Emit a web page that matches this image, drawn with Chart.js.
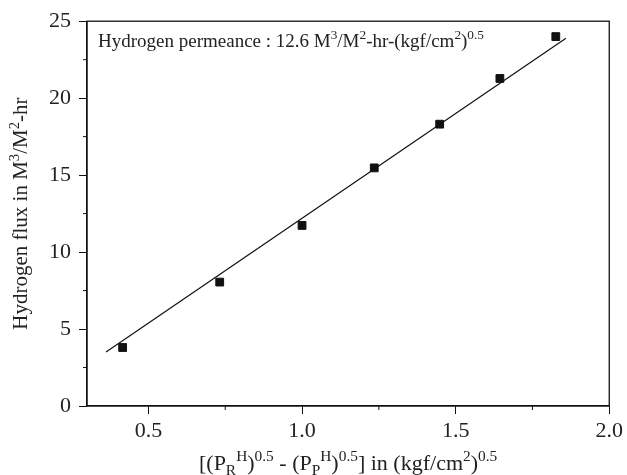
<!DOCTYPE html>
<html>
<head>
<meta charset="utf-8">
<script src="https://cdn.jsdelivr.net/npm/chart.js@4.4.0/dist/chart.umd.min.js"></script>
<style>
  html, body { margin: 0; padding: 0; background: #fff; }
  canvas { display: block; }
</style>
</head>
<body>
<canvas id="grafico" width="627" height="475"></canvas>
<script>
// dados
const fluxX = [0.416, 0.732, 1.0, 1.235, 1.448, 1.644, 1.826];
const fluxY = [3.8, 8.05, 11.73, 15.47, 18.31, 21.28, 24.0];
const fitX = [0.362, 1.859];
const fitY = [3.51, 23.9];

const majorXTicks = [0.5, 1.0, 1.5, 2.0];
const minorXTicks = [0.75, 1.25, 1.75];
const majorYTicks = [0, 5, 10, 15, 20, 25];
const minorYTicks = [2.5, 7.5, 12.5, 17.5, 22.5];

const yTitle = [['Hydrogen flux in M', ''], ['3', '^'], ['/M', ''], ['2', '^'], ['-hr', '']];
const xTitle = [['[(P', ''], ['R', '_'], ['H', '^'], [')', ''], ['0.5', '^'], [' - (P', ''], ['P', '_'], ['H', '^'], [')', ''], ['0.5', '^'], ['] in (kgf/cm', ''], ['2', '^'], [')', ''], ['0.5', '^']];
const noteText = [['Hydrogen permeance : 12.6 M', ''], ['3', '^'], ['/M', ''], ['2', '^'], ['-hr-(kgf/cm', ''], ['2', '^'], [')', ''], ['0.5', '^']];

const FONT = '"Liberation Serif", "Times New Roman", serif';
const TEXT = '#222';

// texto com sobrescrito/subscrito
function drawRich(ctx, parts, x, y, size, align) {
  const small = size * 0.7;
  let total = 0;
  parts.forEach(p => {
    ctx.font = (p[1] ? small : size) + 'px ' + FONT;
    total += ctx.measureText(p[0]).width;
  });
  let cx = align === 'center' ? x - total / 2 : x;
  ctx.textAlign = 'left';
  ctx.textBaseline = 'alphabetic';
  ctx.fillStyle = TEXT;
  parts.forEach(p => {
    let dy = 0;
    if (p[1] === '^') dy = -size * 0.4;
    if (p[1] === '_') dy = size * 0.22;
    ctx.font = (p[1] ? small : size) + 'px ' + FONT;
    ctx.fillText(p[0], cx, y + dy);
    cx += ctx.measureText(p[0]).width;
  });
}

const extras = {
  id: 'extras',
  afterDraw(chart) {
    const ctx = chart.ctx;
    const area = chart.chartArea;
    const sx = chart.scales.x, sy = chart.scales.y;
    ctx.save();
    // moldura
    ctx.strokeStyle = '#111';
    ctx.lineWidth = 1.3;
    ctx.strokeRect(area.left, area.top, area.right - area.left, area.bottom - area.top);
    // ticks menores
    ctx.lineWidth = 1;
    ctx.beginPath();
    minorXTicks.forEach(v => {
      const px = sx.getPixelForValue(v);
      ctx.moveTo(px, area.bottom);
      ctx.lineTo(px, area.bottom + 4);
    });
    minorYTicks.forEach(v => {
      const py = sy.getPixelForValue(v);
      ctx.moveTo(area.left, py);
      ctx.lineTo(area.left - 4, py);
    });
    ctx.stroke();
    // titulos
    drawRich(ctx, xTitle, (area.left + area.right) / 2, 470, 22, 'center');
    drawRich(ctx, noteText, area.left + 11, 47, 19, 'left');
    ctx.translate(27, (area.top + area.bottom) / 2);
    ctx.rotate(-Math.PI / 2);
    drawRich(ctx, yTitle, 0, 0, 21, 'center');
    ctx.restore();
  }
};

new Chart(document.getElementById('grafico'), {
  type: 'scatter',
  data: {
    datasets: [
      {
        label: 'fit',
        type: 'line',
        data: fitX.map((x, i) => ({ x: x, y: fitY[i] })),
        borderColor: '#111',
        borderWidth: 1.2,
        pointRadius: 0,
        fill: false
      },
      {
        label: 'flux',
        data: fluxX.map((x, i) => ({ x: x, y: fluxY[i] })),
        pointStyle: 'rect',
        pointRadius: 5.5,
        pointBackgroundColor: '#111',
        pointBorderColor: '#111',
        pointBorderWidth: 1
      }
    ]
  },
  options: {
    responsive: false,
    animation: false,
    devicePixelRatio: 1,
    layout: { padding: { left: 0, right: 14, top: 18, bottom: 0 } },
    plugins: { legend: { display: false }, tooltip: { enabled: false } },
    scales: {
      x: {
        type: 'linear',
        min: 0.3,
        max: 2.0,
        afterBuildTicks: s => { s.ticks = majorXTicks.map(v => ({ value: v })); },
        afterFit: s => { s.height = 69; },
        grid: { drawOnChartArea: false, tickLength: 8, color: '#111' },
        border: { color: '#111', width: 1.3 },
        ticks: {
          color: TEXT,
          padding: 4,
          maxRotation: 0,
          font: { family: FONT, size: 22 },
          callback: v => Number(v).toFixed(1)
        }
      },
      y: {
        min: 0,
        max: 25,
        afterBuildTicks: s => { s.ticks = majorYTicks.map(v => ({ value: v })); },
        afterFit: s => { s.width = 87; },
        grid: { drawOnChartArea: false, tickLength: 8, color: '#111' },
        border: { color: '#111', width: 1.3 },
        ticks: {
          color: TEXT,
          padding: 8,
          font: { family: FONT, size: 22 },
          callback: v => String(v)
        }
      }
    }
  },
  plugins: [extras]
});
</script>
</body>
</html>
